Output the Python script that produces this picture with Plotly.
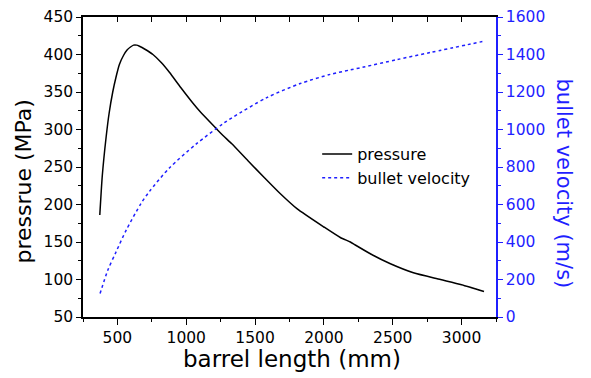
import plotly.graph_objects as go

# pressure curve (barrel length mm, MPa)
p_len = [372, 390, 418, 440, 466, 490, 515, 545, 570, 595, 617, 640, 660, 700, 758, 820, 879, 960, 1049, 1100,
         1209, 1267, 1331, 1450, 1561, 1680, 1804, 2000, 2119, 2192, 2228, 2350, 2483, 2650, 2847, 3000, 3163]
p_val = [186, 238, 290, 322, 350, 370, 387, 399, 406, 410, 412.5, 412.5, 411, 407, 400, 389, 376, 356, 335, 324,
         303, 292, 281, 258, 237, 215, 194.5, 170, 156, 150, 146, 133, 121, 109, 100, 93, 84]

# bullet velocity (barrel length mm, m/s)
v_len = [374, 430, 490, 563, 672, 733, 879, 1073, 1267, 1342, 1585, 1828, 2046, 2192, 2289, 2532, 2775, 3151]
v_val = [125, 249, 347, 462, 606, 670, 796, 923, 1031, 1067, 1170, 1245, 1294, 1318, 1333, 1373, 1411, 1469]

x_title = "barrel length (mm)"
y_title = "pressrue (MPa)"
y2_title = "bullet velocity (m/s)"

FONT = "DejaVu Sans, sans-serif"
BLUE = "#1f1fff"

fig = go.Figure()
fig.add_trace(go.Scatter(x=p_len, y=p_val, mode="lines", name="pressure",
                         line=dict(color="black", width=1.5, shape="spline", smoothing=0.6)))
fig.add_trace(go.Scatter(x=v_len, y=v_val, mode="lines", name="bullet velocity", yaxis="y2",
                         line=dict(color=BLUE, width=1.5, dash="dot", shape="spline", smoothing=0.8)))
# helper trace for top mirrored axis
fig.add_trace(go.Scatter(x=[p_len[0]], y=[p_val[0]], mode="markers", xaxis="x2", showlegend=False,
                         marker=dict(size=0.1, opacity=0), hoverinfo="skip"))

fig.update_layout(
    width=591, height=378,
    margin=dict(l=83, r=95, t=17, b=61),
    paper_bgcolor="white", plot_bgcolor="white",
    font=dict(family=FONT, size=15.5, color="black"),
    showlegend=True,
    legend=dict(x=0.567, y=0.60, xanchor="left", yanchor="top", bgcolor="rgba(0,0,0,0)",
                font=dict(size=16, color="black"), tracegroupgap=0, itemwidth=30),
    xaxis=dict(range=[250, 3250], tick0=500, dtick=500, showgrid=False, zeroline=False, automargin=False,
               showline=True, linecolor="black", linewidth=1.5,
               ticks="outside", ticklen=6, tickwidth=1.2, tickcolor="black",
               minor=dict(ticks="outside", ticklen=3, tick0=250, dtick=250, tickcolor="black", showgrid=False),
               tickfont=dict(size=15.5)),
    xaxis2=dict(range=[250, 3250], overlaying="x", side="top", anchor="y", tick0=250, dtick=250,
                automargin=False, showgrid=False, zeroline=False, showline=True, linecolor="black", linewidth=1.5,
                ticks="inside", ticklen=5, tickwidth=1.2, tickcolor="black", showticklabels=False),
    yaxis=dict(range=[50, 450], tick0=50, dtick=50, showgrid=False, zeroline=False, automargin=False,
               showline=True, linecolor="black", linewidth=1.5,
               ticks="outside", ticklen=5, tickwidth=1.2, tickcolor="black",
               minor=dict(ticks="outside", ticklen=3, tick0=75, dtick=50, tickcolor="black", showgrid=False),
               tickfont=dict(size=15.5)),
    yaxis2=dict(range=[0, 1600], tick0=0, dtick=200, overlaying="y", side="right", anchor="x",
                automargin=False, showgrid=False, zeroline=False, showline=True, linecolor=BLUE, linewidth=1.5,
                ticks="outside", ticklen=5, tickwidth=1.2, tickcolor=BLUE,
                minor=dict(ticks="outside", ticklen=3, tick0=100, dtick=200, tickcolor=BLUE, showgrid=False),
                tickfont=dict(size=15.5, color=BLUE)),
    annotations=[
        dict(text=x_title, xref="paper", yref="paper", x=0.505, y=-0.14, xanchor="center", yanchor="middle",
             showarrow=False, font=dict(size=23, color="black")),
        dict(text=y_title, xref="paper", yref="paper", x=-0.145, y=0.452, xanchor="center", yanchor="middle",
             textangle=-90, showarrow=False, font=dict(size=22, color="black")),
        dict(text=y2_title, xref="paper", yref="paper", x=1.1646, y=0.445, xanchor="center", yanchor="middle",
             textangle=90, showarrow=False, font=dict(size=21, color=BLUE)),
    ],
)

fig.write_html("out.html", config={"displayModeBar": False},
               post_script="document.body.style.margin='0';document.body.style.overflow='hidden';")
